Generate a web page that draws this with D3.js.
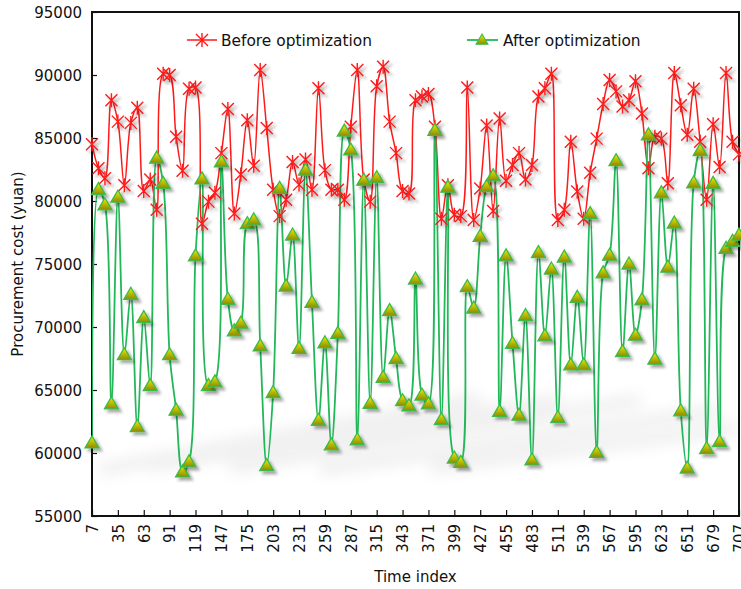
<!DOCTYPE html>
<html><head><meta charset="utf-8">
<script src="https://cdn.jsdelivr.net/npm/d3@7/dist/d3.min.js"></script>
<style>body{margin:0;background:#fff} svg text{font-family:"DejaVu Sans",sans-serif;fill:#111}</style>
</head><body><svg id="c" width="741" height="589"></svg>
<script>
const timeIndex = [7,14,21,28,35,42,49,56,63,70,77,84,91,98,105,112,119,126,133,140,147,154,161,168,175,182,189,196,203,210,217,224,231,238,245,252,259,266,273,280,287,294,301,308,315,322,329,336,343,350,357,364,371,378,385,392,399,406,413,420,427,434,441,448,455,462,469,476,483,490,497,504,511,518,525,532,539,546,553,560,567,574,581,588,595,602,609,616,623,630,637,644,651,658,665,672,679,686,693,700,707];
const beforeValues = [84500,82600,81800,88000,86300,81250,86200,87400,80800,81700,79300,90100,90000,85100,82400,88900,89000,78200,79950,80650,83800,87300,79000,82100,86400,82800,90400,85800,80900,78800,80100,83100,81300,83300,80900,88950,82450,80900,80900,80100,85900,90400,81700,79950,89100,90650,86300,83800,80800,80600,88000,88300,88500,85900,78600,81250,78900,78800,89000,78500,81000,86000,79200,86550,81600,82850,83800,81700,82850,88300,88950,90100,78500,79300,84700,80750,78600,82250,84950,87700,89600,88700,87500,88000,89500,86950,82600,85100,84950,81400,90150,87600,85250,88900,84700,80100,86100,82700,90150,84700,83700];
const afterValues = [60800,80900,79700,63900,80300,67800,72600,62100,70750,65350,83400,81400,67800,63400,58500,59300,75650,81750,65350,65650,83100,72200,69700,70300,78200,78500,68500,59000,64800,81000,73250,77300,68300,82450,71950,62600,68750,60650,69500,85550,84050,61050,81650,63950,81850,66000,71300,67500,64150,63750,73800,64600,63900,85600,62650,81100,59600,59250,73200,71500,77200,81150,82000,63300,75650,68700,63000,70900,59450,75900,69300,74600,62800,75550,67000,72350,67000,79000,60050,74300,75700,83200,68050,75000,69350,72150,85250,67450,80650,74750,78250,63350,58800,81450,84000,60350,81400,60900,76250,76800,77300];
const xTickValues = [7,35,63,91,119,147,175,203,231,259,287,315,343,371,399,427,455,483,511,539,567,595,623,651,679,707];
const yTickValues = [55000,60000,65000,70000,75000,80000,85000,90000,95000];
const seriesNames = ["Before optimization","After optimization"];
const xTitle = "Time index";
const yTitle = "Procurement cost (yuan)";

const svg = d3.select("#c");
const L=92, R=739, T=12, B=516;
const x = d3.scaleLinear().domain([7,707]).range([L,R]);
const y = d3.scaleLinear().domain([55000,95000]).range([B,T]);

const defs = svg.append("defs");
const sh = defs.append("filter").attr("id","sh").attr("x","-50%").attr("y","-50%").attr("width","200%").attr("height","200%");
sh.append("feGaussianBlur").attr("in","SourceAlpha").attr("stdDeviation",1.4).attr("result","b");
sh.append("feOffset").attr("in","b").attr("dx",3).attr("dy",3).attr("result","o");
sh.append("feComponentTransfer").attr("in","o").attr("result","o2").append("feFuncA").attr("type","linear").attr("slope",0.35);
const m = sh.append("feMerge"); m.append("feMergeNode").attr("in","o2"); m.append("feMergeNode").attr("in","SourceGraphic");
const bl = defs.append("filter").attr("id","bl").attr("x","-20%").attr("y","-50%").attr("width","140%").attr("height","200%");
bl.append("feGaussianBlur").attr("stdDeviation",7);
const g = defs.append("linearGradient").attr("id","tri").attr("x1",0).attr("y1",0).attr("x2",0).attr("y2",1);
g.append("stop").attr("offset","0%").attr("stop-color","#f2f200");
g.append("stop").attr("offset","100%").attr("stop-color","#8c8a00");
defs.append("clipPath").attr("id","clip").append("rect").attr("x",L).attr("y",T).attr("width",R-L).attr("height",B-T);

// faint background smear
const bg = svg.append("g").attr("clip-path","url(#clip)").append("g").attr("filter","url(#bl)").attr("opacity",0.1);
[[100,470,480,398],[150,466,560,400],[230,468,640,400],[320,470,720,410],[430,468,739,428]].forEach(s=>{
  bg.append("line").attr("x1",s[0]).attr("y1",s[1]).attr("x2",s[2]).attr("y2",s[3]).attr("stroke","#777").attr("stroke-width",14);
});

// axes ticks (inside)
const yAxis = d3.axisLeft(y).tickValues(yTickValues).tickSize(-5).tickPadding(10).tickFormat(d3.format("d"));
const ya = svg.append("g").attr("transform",`translate(${L},0)`).call(yAxis);
ya.select(".domain").remove();
ya.selectAll("line").attr("stroke","#111").attr("stroke-width",1.2);
ya.selectAll("text").attr("font-size",15).attr("dy","0.35em");

const xAxis = d3.axisBottom(x).tickValues(xTickValues).tickSize(-6).tickPadding(6);
const xa = svg.append("g").attr("transform",`translate(0,${B})`).call(xAxis);
xa.select(".domain").remove();
xa.selectAll("line").attr("stroke","#111").attr("stroke-width",1.2);
xa.selectAll("text").attr("font-size",15).attr("text-anchor","end")
  .attr("transform","rotate(-90)").attr("x",-8).attr("y",0).attr("dy","0.35em");

// frame
svg.append("rect").attr("x",L).attr("y",T).attr("width",R-L).attr("height",B-T).attr("fill","none").attr("stroke","#111").attr("stroke-width",2);

// titles
svg.append("text").attr("x",(L+R)/2).attr("y",582).attr("text-anchor","middle").attr("font-size",15).text(xTitle);
svg.append("text").attr("transform","translate(23,264) rotate(-90)").attr("text-anchor","middle").attr("font-size",15).text(yTitle);

const plot = svg.append("g").attr("clip-path","url(#clip)");
const before = timeIndex.map((t,i)=>({t,v:beforeValues[i]}));
const after = timeIndex.map((t,i)=>({t,v:afterValues[i]}));
const line = d3.line().x(d=>x(d.t)).y(d=>y(d.v)).curve(d3.curveCatmullRom.alpha(0.5));

const red="#ff1a1a", green="#22b85a";
function star(sel){
  sel.append("path").attr("d","M-6,-6L6,6M-6,6L6,-6M0,-7L0,7").attr("stroke",red).attr("stroke-width",1.4).attr("fill","none");
}
function tri(sel){
  sel.append("path").attr("d","M0,-7L7,5L-7,5Z").attr("fill","url(#tri)").attr("stroke","#3cbb4a").attr("stroke-width",1.3);
}
plot.append("path").datum(before).attr("d",line).attr("fill","none").attr("stroke",red).attr("stroke-width",1.5);
plot.append("path").datum(after).attr("d",line).attr("fill","none").attr("stroke",green).attr("stroke-width",1.8);

const markerLayer = svg.append("g");
markerLayer.selectAll(".s").data(before).join("g").attr("class","s").attr("filter","url(#sh)")
  .attr("transform",d=>`translate(${x(d.t)},${y(d.v)})`).call(star);
markerLayer.selectAll(".tr").data(after).join("g").attr("class","tr").attr("filter","url(#sh)")
  .attr("transform",d=>`translate(${x(d.t)},${y(d.v)})`).call(tri);

// legend
const lg = svg.append("g");
lg.append("line").attr("x1",187).attr("x2",217).attr("y1",40).attr("y2",40).attr("stroke",red).attr("stroke-width",1.5);
lg.append("g").attr("transform","translate(202,40)").call(star);
lg.append("text").attr("x",221).attr("y",45.5).attr("font-size",15.4).text(seriesNames[0]);
lg.append("line").attr("x1",467).attr("x2",498).attr("y1",40).attr("y2",40).attr("stroke",green).attr("stroke-width",1.8);
lg.append("g").attr("transform","translate(482,40) scale(0.85)").call(tri);
lg.append("text").attr("x",503).attr("y",45.5).attr("font-size",15.4).text(seriesNames[1]);
</script></body></html>
